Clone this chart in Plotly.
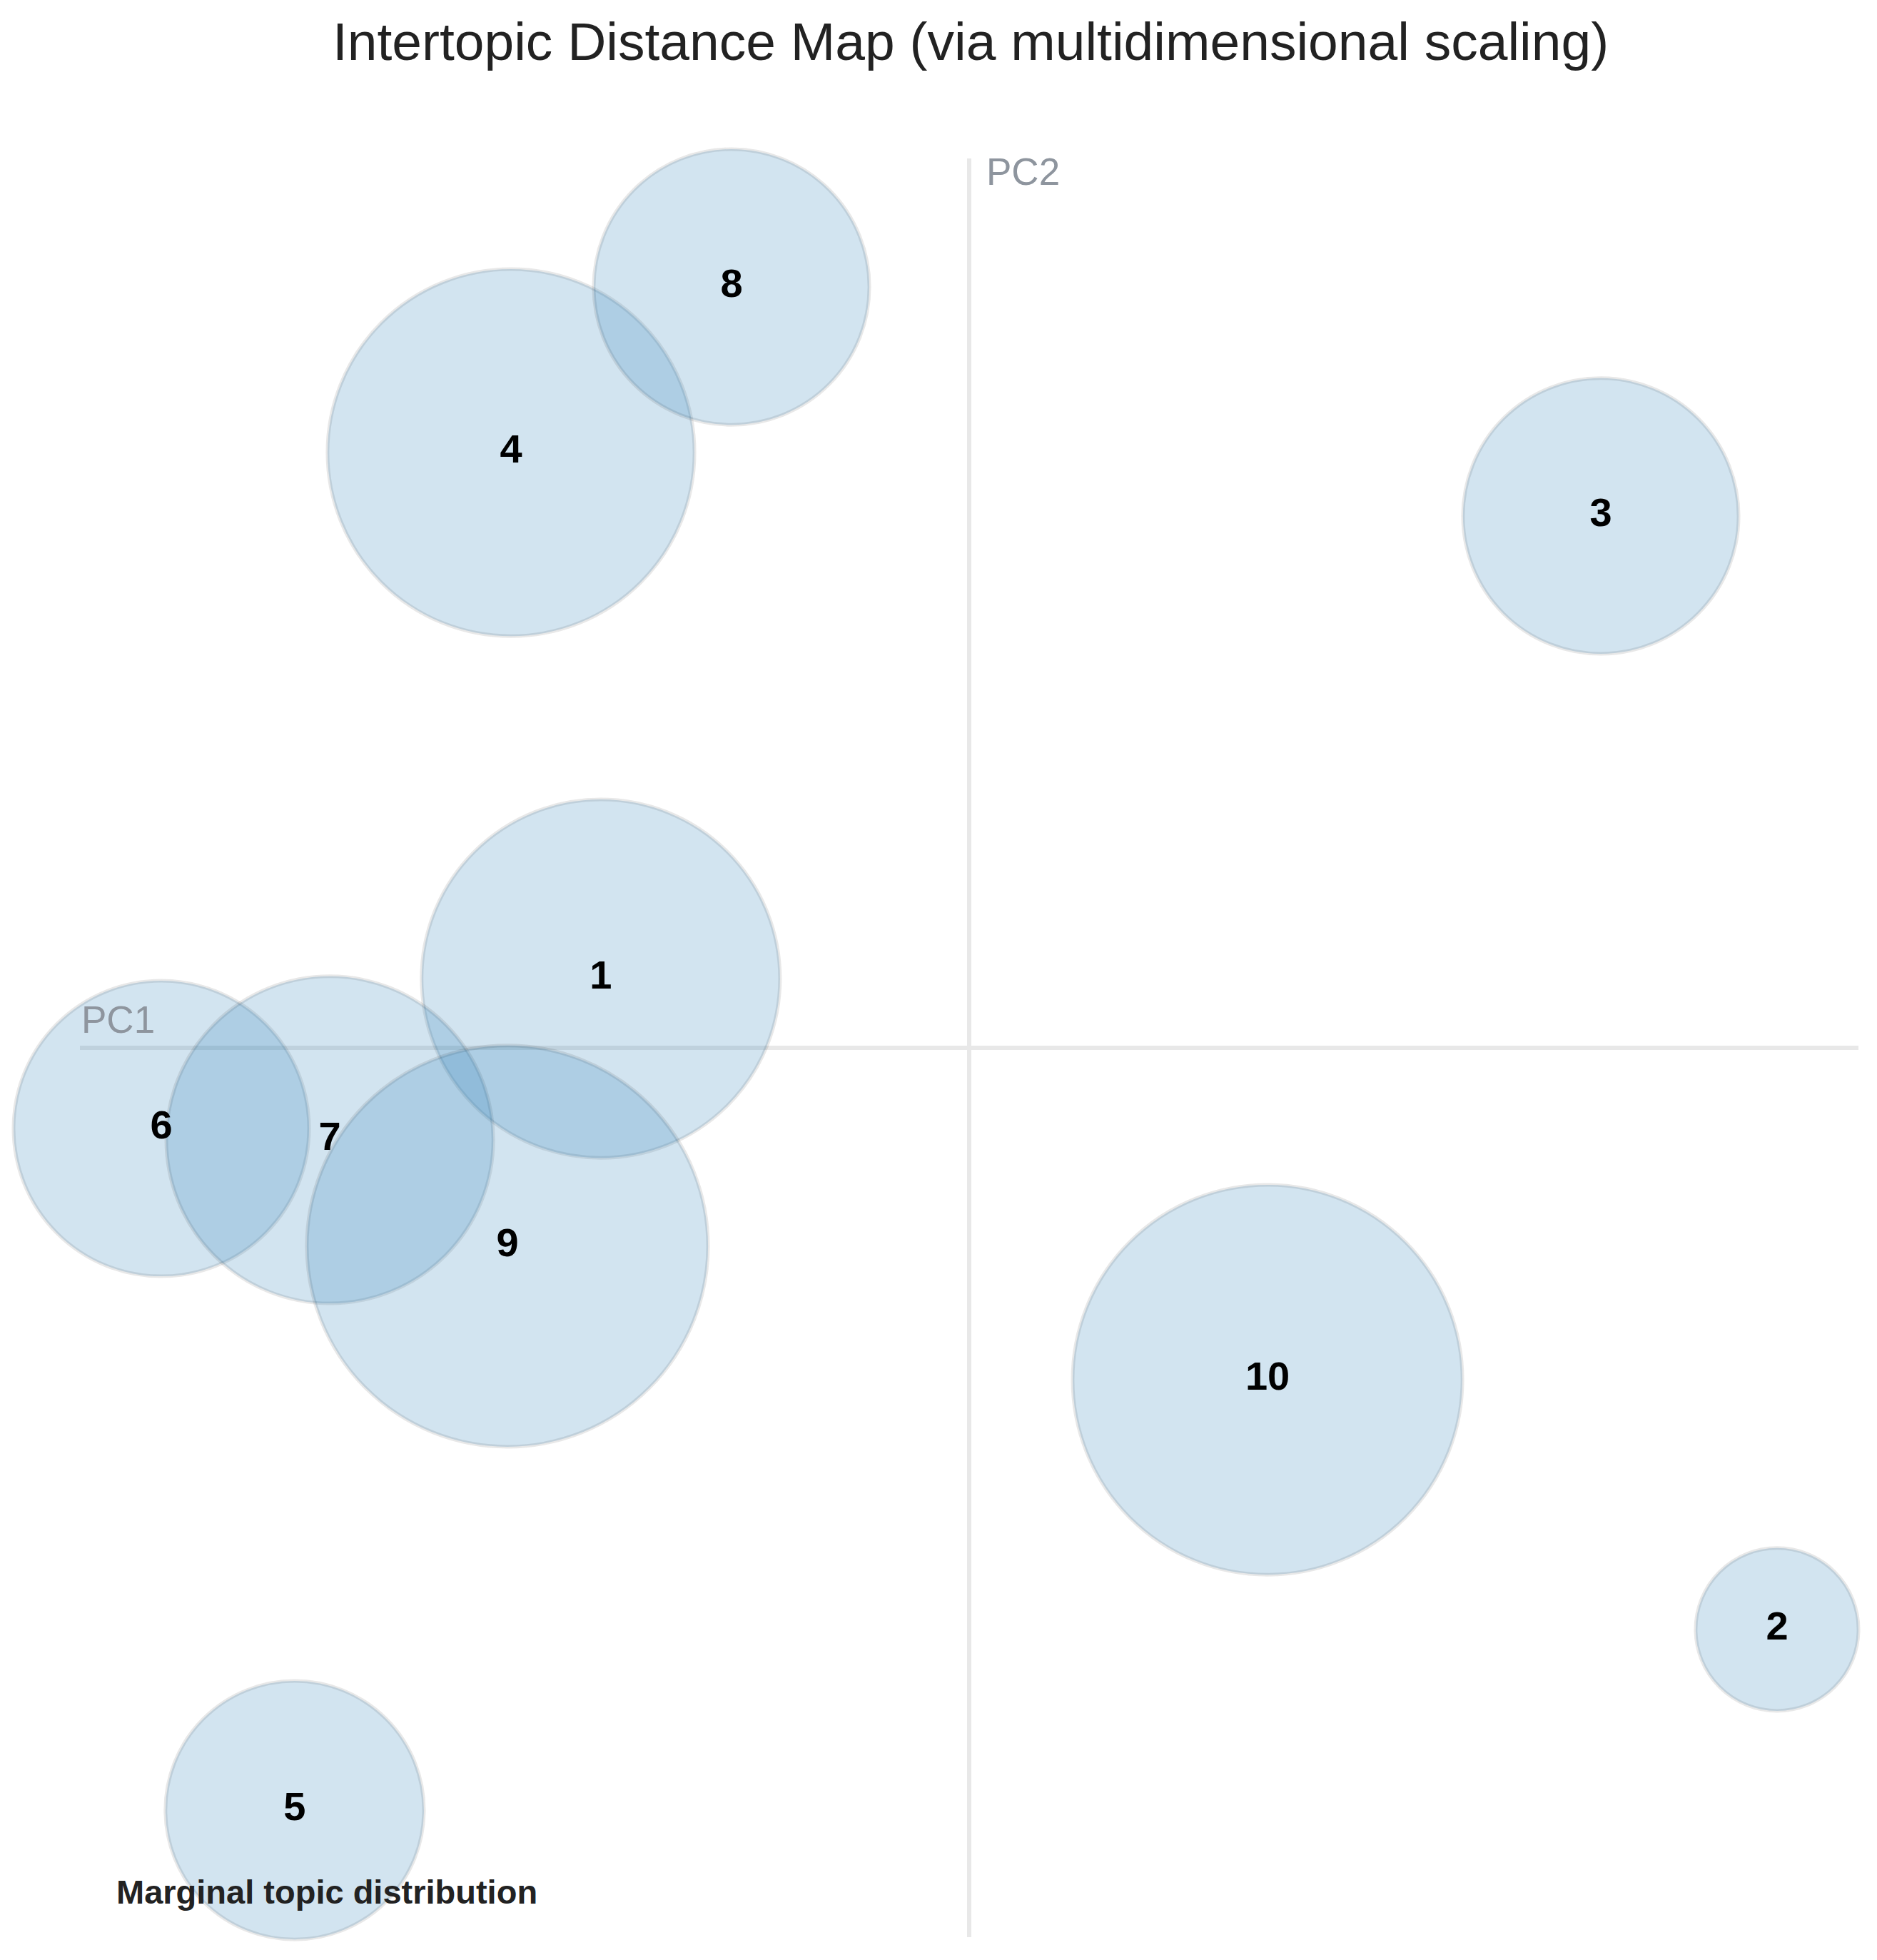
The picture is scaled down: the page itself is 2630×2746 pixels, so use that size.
import numpy as np
import plotly.graph_objects as go

# ---- data ----
topics = ["1", "2", "3", "4", "5", "6", "7", "8", "9", "10"]
pc1 = [-0.1657, 0.3634, 0.2841, -0.2061, -0.3034, -0.3634, -0.2876, -0.1069, -0.2077, 0.1342]
pc2 = [0.0311, -0.2616, 0.2392, 0.2677, -0.3429, -0.0363, -0.0414, 0.3422, -0.0892, -0.1493]
marginal_pct = [12.65, 2.61, 7.48, 13.26, 6.58, 8.60, 10.53, 7.48, 15.85, 14.96]

title_text = "Intertopic Distance Map (via multidimensional scaling)"
axis_labels = ["PC1", "PC2"]
size_legend = "Marginal topic distribution"

# ---- styling ----
W, H = 2630, 2746
ML, MR, MT, MB = 112, 26, 222, 32
px_per_sqrt_pct = 70.6  # radius in px per sqrt(percent)
diam = [2 * px_per_sqrt_pct * np.sqrt(p) for p in marginal_pct]
FONT = "Liberation Sans, Arial, sans-serif"

fig = go.Figure()
fig.add_trace(go.Scatter(
    x=pc1, y=pc2,
    mode="markers+text",
    text=topics,
    textposition="middle center",
    textfont=dict(family=FONT, size=56, color="#000000", weight="bold"),
    marker=dict(
        size=diam,
        sizemode="diameter",
        color="rgba(31,119,180,0.2)",
        opacity=1,
        line=dict(color="rgba(0,0,0,0.09)", width=5),
    ),
    cliponaxis=False,
    hoverinfo="text",
    showlegend=False,
))

axis_common = dict(
    range=[-0.4, 0.4],
    showgrid=False,
    showticklabels=False,
    ticks="",
    showline=False,
    zeroline=True,
    zerolinecolor="#e8e8e8",
    zerolinewidth=6,
    fixedrange=True,
)

fig.update_layout(
    width=W, height=H,
    margin=dict(l=ML, r=MR, t=MT, b=MB),
    paper_bgcolor="white",
    plot_bgcolor="white",
    xaxis=axis_common,
    yaxis=axis_common,
    title=dict(
        text=title_text,
        x=(1360) / W, xanchor="center",
        y=1 - 58 / H, yanchor="middle",
        font=dict(family=FONT, size=75, color="#222222"),
    ),
    annotations=[
        dict(text=axis_labels[0], xref="paper", yref="y", x=0, y=0,
             xanchor="left", yanchor="middle", yshift=40, showarrow=False,
             font=dict(family=FONT, size=53, color="#8e959e")),
        dict(text=axis_labels[1], xref="x", yref="paper", x=0, y=1,
             xanchor="left", yanchor="middle", xshift=22, yshift=-18, showarrow=False,
             font=dict(family=FONT, size=53, color="#8e959e")),
        dict(text=size_legend, xref="paper", yref="paper",
             x=(161 - ML) / (W - ML - MR), y=(H - MB - 2650) / (H - MT - MB),
             xanchor="left", yanchor="middle", showarrow=False,
             font=dict(family=FONT, size=47, color="#222222", weight="bold")),
    ],
)

fig.write_html("out.html")
